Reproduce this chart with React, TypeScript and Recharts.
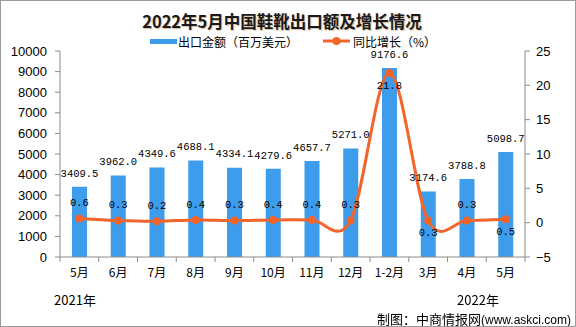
import React from 'react';
import { ComposedChart, Bar, Line, XAxis, YAxis, LabelList } from 'recharts';

const categories = ['5月', '6月', '7月', '8月', '9月', '10月', '11月', '12月', '1-2月', '3月', '4月', '5月'];
const exportValues = [3409.5, 3962.0, 4349.6, 4688.1, 4334.1, 4279.6, 4657.7, 5271.0, 9176.6, 3174.6, 3788.8, 5098.7];
const growthRates = [0.6, 0.3, 0.2, 0.4, 0.3, 0.4, 0.4, 0.3, 21.8, 0.3, 0.3, 0.5];
const leftTicks = [0, 1000, 2000, 3000, 4000, 5000, 6000, 7000, 8000, 9000, 10000];
const rightTicks = [-5, 0, 5, 10, 15, 20, 25];
const yearLabels = ['2021年', '2022年'];
const titleText = '2022年5月中国鞋靴出口额及增长情况';
const barSeriesName = '出口金额（百万美元）';
const lineSeriesName = '同比增长（%）';
const sourceCn = '制图：中商情报网';
const sourceUrl = '(www.askci.com)';

const data = categories.map((name, i) => ({ name, exportValue: exportValues[i], growth: growthRates[i] }));

const BLUE = '#3d9cec';
const ORANGE = '#f3652a';
const AXIS = '#8c8c8c';
const CJK = '"Noto Sans CJK SC", "Liberation Sans", sans-serif';
const LABEL_FONT = '"Liberation Mono", "DejaVu Sans Mono", monospace';

// labels drawn beneath their point (as in the reference)
const labelsBelow = new Set([8, 9, 11]);

function excelSmooth(context: any) {
  let pts: number[][] = [];
  return {
    areaStart() {},
    areaEnd() {},
    lineStart() {
      pts = [];
    },
    point(x: number, y: number) {
      pts.push([+x, +y]);
    },
    lineEnd() {
      const n = pts.length;
      if (!n) return;
      context.moveTo(pts[0][0], pts[0][1]);
      const k = 1 / 6;
      for (let i = 0; i < n - 1; i++) {
        const p0 = pts[i - 1] || pts[i];
        const p1 = pts[i];
        const p2 = pts[i + 1];
        const p3 = pts[i + 2] || p2;
        context.bezierCurveTo(
          p1[0] + (p2[0] - p0[0]) * k,
          p1[1] + (p2[1] - p0[1]) * k,
          p2[0] - (p3[0] - p1[0]) * k,
          p2[1] - (p3[1] - p1[1]) * k,
          p2[0],
          p2[1]
        );
      }
    },
  };
}

const CategoryTick = (props: any) => {
  const { x, y, payload, index, width, visibleTicksCount } = props;
  const count = visibleTicksCount || categories.length;
  const band = (width || 465) / count;
  const isLast = index === count - 1;
  return (
    <g>
      <line x1={x - band / 2} y1={y} x2={x - band / 2} y2={y + 5} stroke={AXIS} />
      {isLast && <line x1={x + band / 2} y1={y} x2={x + band / 2} y2={y + 5} stroke={AXIS} />}
      <text x={x} y={y + 17} textAnchor="middle" dominantBaseline="middle" fontSize={12} fontFamily={CJK} fill="#000">
        {payload.value}
      </text>
    </g>
  );
};

const BarValueLabel = (props: any) => {
  const { x, y, width, value } = props;
  return (
    <text x={x + width / 2} y={y - 13} textAnchor="middle" dominantBaseline="middle" fontSize={10.5} fontFamily={LABEL_FONT} fill="#000">
      {Number(value).toFixed(1)}
    </text>
  );
};

const GrowthLabel = (props: any) => {
  const { x, y, value, index } = props;
  const below = labelsBelow.has(index);
  return (
    <text x={x} y={below ? y + 13 : y - 15} textAnchor="middle" dominantBaseline="middle" fontSize={10.5} fontFamily={LABEL_FONT} fill="#000">
      {Number(value).toFixed(1)}
    </text>
  );
};

const fmtRight = (v: number) => String(v).replace('-', '−');

export default function App() {
  return (
    <div style={{ position: 'fixed', left: 0, top: 0, width: 576, height: 327, background: '#fff', fontFamily: CJK }}>
      <ComposedChart width={576} height={327} data={data} margin={{ top: 51, right: 0, bottom: 0, left: 0 }} barCategoryGap={0}>
        <XAxis
          dataKey="name"
          xAxisId="x"
          height={70}
          interval={0}
          tickSize={0}
          tickMargin={0}
          tickLine={false}
          axisLine={{ stroke: AXIS }}
          tick={<CategoryTick />}
        />
        <YAxis
          yAxisId="left"
          width={60}
          domain={[0, 10000]}
          ticks={leftTicks}
          interval={0}
          tickSize={5}
          tickMargin={8}
          axisLine={{ stroke: AXIS }}
          tickLine={{ stroke: AXIS }}
          tick={{ fontSize: 13, fill: '#000', fontFamily: '"Liberation Sans", sans-serif' }}
        />
        <YAxis
          yAxisId="right"
          orientation="right"
          width={51}
          domain={[-5, 25]}
          ticks={rightTicks}
          interval={0}
          tickSize={5}
          tickMargin={6}
          tickFormatter={fmtRight}
          axisLine={{ stroke: AXIS }}
          tickLine={{ stroke: AXIS }}
          tick={{ fontSize: 13, fill: '#000', fontFamily: '"Liberation Sans", sans-serif' }}
        />
        <Bar dataKey="exportValue" xAxisId="x" yAxisId="left" fill={BLUE} barSize={15} isAnimationActive={false}>
          <LabelList dataKey="exportValue" content={<BarValueLabel />} />
        </Bar>
        <Line
          dataKey="growth"
          xAxisId="x"
          yAxisId="right"
          type={excelSmooth as any}
          stroke={ORANGE}
          strokeWidth={3}
          dot={{ r: 4, fill: ORANGE, stroke: ORANGE, strokeWidth: 0 }}
          isAnimationActive={false}
        >
          <LabelList dataKey="growth" content={<GrowthLabel />} />
        </Line>
      </ComposedChart>

      <div
        style={{
          position: 'absolute',
          left: 0,
          top: 10,
          width: 564,
          textAlign: 'center',
          fontSize: 16.5,
          fontWeight: 'bold',
          lineHeight: '22px',
          color: '#1a1a1a',
          textShadow: '1px 1px 1px rgba(170,110,50,0.45)',
        }}
      >
        {titleText}
      </div>

      <div style={{ position: 'absolute', left: 150, top: 32, height: 18, display: 'flex', alignItems: 'center', fontSize: 12, color: '#000', whiteSpace: 'nowrap' }}>
        <span style={{ display: 'inline-block', width: 27, height: 5, background: BLUE, marginRight: 1 }} />
        <span>{barSeriesName}</span>
        <svg width={27} height={10} style={{ marginLeft: 25, marginRight: 3 }}>
          <line x1={0} y1={5} x2={27} y2={5} stroke={ORANGE} strokeWidth={3} />
          <circle cx={13.5} cy={5} r={4} fill={ORANGE} />
        </svg>
        <span>{lineSeriesName}</span>
      </div>

      <div style={{ position: 'absolute', left: 40, top: 291, width: 70, textAlign: 'center', fontSize: 13, lineHeight: '18px', color: '#000' }}>
        {yearLabels[0]}
      </div>
      <div style={{ position: 'absolute', left: 443, top: 291, width: 70, textAlign: 'center', fontSize: 13, lineHeight: '18px', color: '#000' }}>
        {yearLabels[1]}
      </div>

      <div style={{ position: 'absolute', left: 377, top: 308, lineHeight: '18px', whiteSpace: 'nowrap', color: '#000' }}>
        <span style={{ fontSize: 13 }}>{sourceCn}</span>
        <span style={{ fontSize: 12, fontFamily: '"Liberation Sans", sans-serif' }}>{sourceUrl}</span>
      </div>

      <div style={{ position: 'absolute', left: 0, top: 0, width: 576, height: 327, boxSizing: 'border-box', border: '1px solid #9a9a9a', pointerEvents: 'none' }} />
    </div>
  );
}
